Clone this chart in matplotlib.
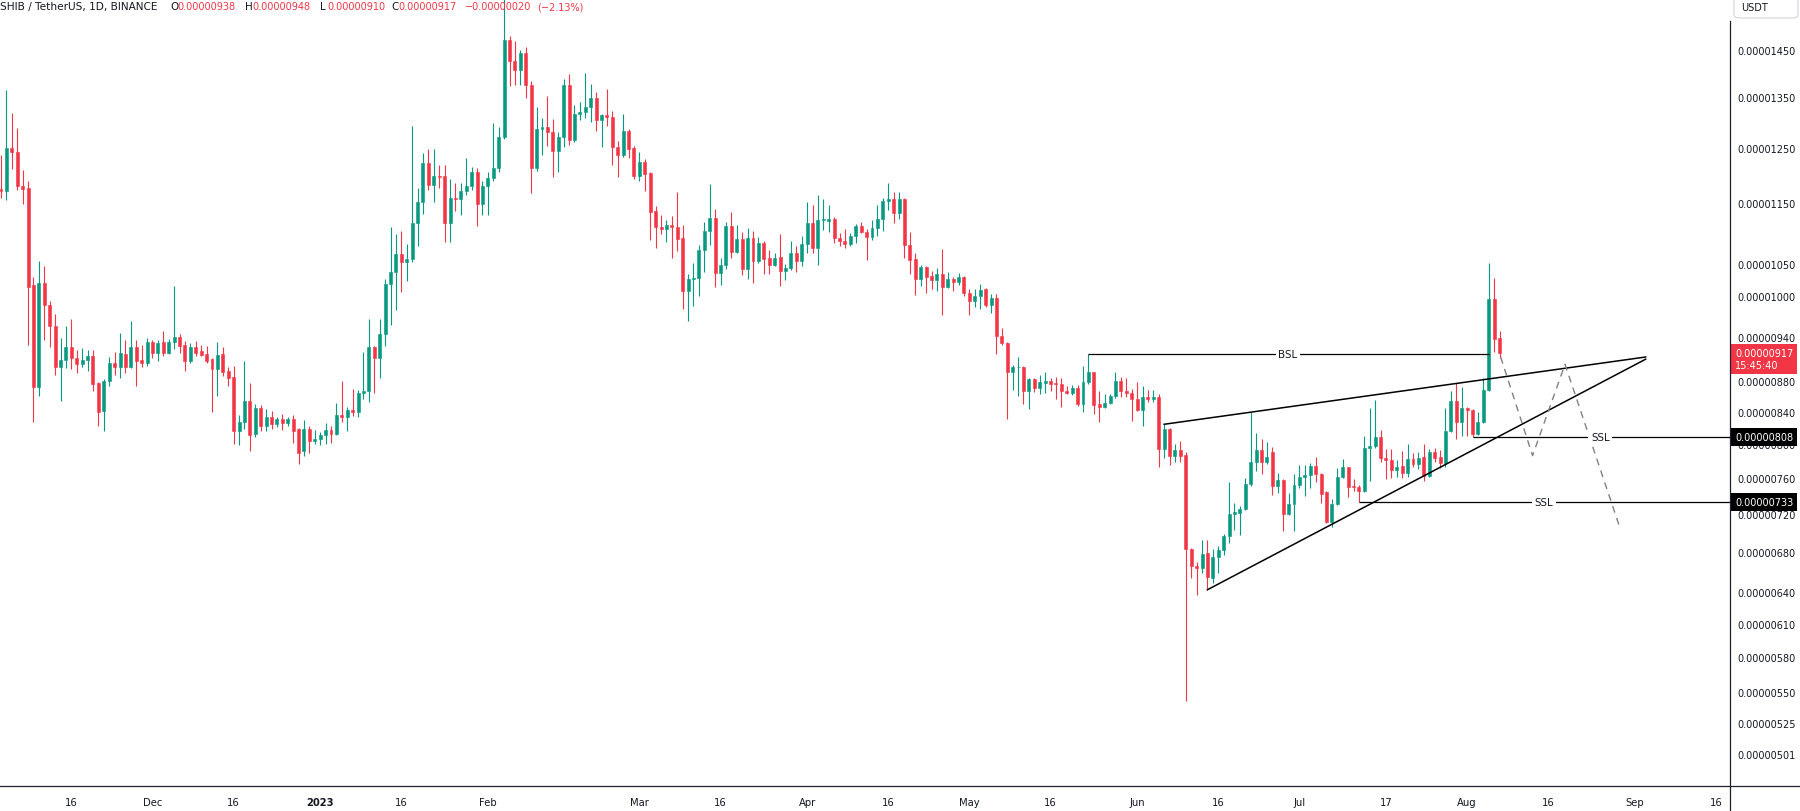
import matplotlib
matplotlib.use("Agg")
import matplotlib.pyplot as plt
import matplotlib.dates as mdates
from matplotlib.patches import FancyBboxPatch
from matplotlib.lines import Line2D
from matplotlib.ticker import FixedLocator, NullLocator, FuncFormatter
import numpy as np
import pandas as pd

UP = "#089981"
DOWN = "#F23645"
INK = "#131722"

# SHIB/USDT daily candles, prices in units of 1e-8 USDT
start_date = "2022-11-03"
opens = [
    1175, 1172, 1250, 1243, 1181, 1177, 1017, 872, 1020, 987,
    955, 899, 908, 926, 911, 903, 908, 914, 877, 841,
    880, 904, 899, 916, 899, 926, 908, 904, 933, 918,
    933, 917, 933, 940, 928, 907, 926, 920, 916, 909,
    895, 916, 893, 885, 816, 827, 854, 812, 844, 822,
    833, 824, 831, 825, 831, 818, 791, 818, 803, 806,
    811, 817, 812, 835, 833, 842, 840, 864, 866, 926,
    911, 944, 1018, 1037, 1066, 1052, 1057, 1116, 1152, 1222,
    1182, 1198, 1198, 1116, 1160, 1158, 1171, 1180, 1205, 1149,
    1180, 1195, 1213, 1271, 1471, 1425, 1406, 1442, 1374, 1212,
    1286, 1291, 1281, 1245, 1271, 1375, 1266, 1316, 1320, 1330,
    1348, 1303, 1313, 1310, 1252, 1237, 1282, 1250, 1198, 1224,
    1203, 1137, 1110, 1106, 1113, 1110, 1092, 1008, 1026, 1028,
    1072, 1103, 1125, 1035, 1048, 1111, 1069, 1090, 1042, 1091,
    1054, 1083, 1059, 1048, 1060, 1039, 1043, 1067, 1054, 1082,
    1116, 1075, 1121, 1120, 1123, 1092, 1087, 1081, 1095, 1111,
    1101, 1093, 1108, 1123, 1154, 1157, 1133, 1157, 1080, 1057,
    1026, 1044, 1030, 1024, 1033, 1013, 1026, 1021, 1029, 1005,
    992, 1000, 1010, 986, 997, 942, 931, 891, 898, 899,
    866, 882, 870, 877, 879, 877, 875, 867, 864, 870,
    850, 878, 891, 849, 846, 851, 860, 880, 866, 864,
    856, 842, 858, 856, 858, 794, 818, 786, 793, 787,
    683, 665, 663, 679, 653, 674, 682, 696, 720, 721,
    725, 753, 778, 793, 779, 790, 751, 758, 720, 731,
    752, 761, 763, 774, 765, 744, 711, 731, 761, 772,
    751, 750, 745, 795, 797, 808, 783, 781, 769, 774,
    766, 782, 776, 784, 762, 790, 784, 777, 816, 854,
    827, 845, 842, 812, 827, 868, 996, 938,
]
highs = [
    1237, 1364, 1318, 1288, 1209, 1189, 1029, 1054, 1046, 992,
    973, 939, 956, 966, 921, 925, 922, 922, 878, 882,
    912, 919, 946, 936, 963, 936, 928, 939, 936, 935,
    948, 937, 1015, 944, 934, 931, 934, 928, 927, 910,
    933, 926, 899, 900, 836, 907, 877, 850, 848, 843,
    841, 833, 837, 833, 835, 819, 829, 822, 817, 814,
    825, 822, 851, 880, 846, 869, 868, 919, 966, 927,
    966, 1026, 1110, 1098, 1103, 1081, 1293, 1177, 1241, 1248,
    1248, 1218, 1218, 1193, 1186, 1186, 1231, 1214, 1212, 1189,
    1205, 1298, 1290, 1590, 1480, 1470, 1449, 1455, 1382, 1329,
    1308, 1352, 1306, 1281, 1387, 1398, 1333, 1339, 1400, 1377,
    1360, 1315, 1366, 1322, 1263, 1316, 1286, 1254, 1243, 1230,
    1205, 1145, 1130, 1121, 1128, 1169, 1113, 1034, 1051, 1080,
    1118, 1184, 1140, 1059, 1118, 1135, 1113, 1101, 1108, 1103,
    1093, 1086, 1071, 1067, 1098, 1049, 1086, 1079, 1095, 1152,
    1147, 1164, 1158, 1147, 1126, 1100, 1106, 1100, 1114, 1118,
    1106, 1121, 1147, 1160, 1186, 1170, 1170, 1160, 1101, 1067,
    1048, 1046, 1039, 1043, 1073, 1036, 1029, 1035, 1030, 1010,
    1010, 1018, 1012, 1003, 1003, 953, 933, 901, 912, 900,
    884, 884, 887, 891, 883, 885, 883, 873, 874, 874,
    900, 916, 892, 866, 862, 863, 891, 885, 883, 869,
    878, 873, 868, 868, 863, 824, 819, 800, 804, 790,
    684, 669, 692, 692, 683, 686, 698, 755, 732, 728,
    760, 840, 813, 806, 802, 796, 766, 759, 743, 764,
    775, 775, 777, 784, 766, 745, 736, 771, 782, 773,
    759, 752, 810, 845, 855, 817, 794, 794, 781, 792,
    800, 789, 790, 800, 794, 795, 793, 845, 867, 877,
    872, 846, 843, 839, 883, 1051, 1028, 948,
]
lows = [
    1160, 1156, 1211, 1174, 1149, 929, 827, 860, 936, 926,
    887, 854, 897, 895, 890, 898, 893, 867, 822, 816,
    873, 888, 884, 890, 897, 873, 899, 900, 910, 906,
    914, 916, 923, 918, 893, 904, 914, 914, 904, 839,
    860, 886, 873, 800, 799, 818, 792, 808, 816, 816,
    818, 821, 817, 822, 801, 776, 786, 789, 800, 799,
    800, 801, 811, 827, 816, 834, 833, 856, 852, 864,
    883, 927, 957, 979, 1006, 1023, 1053, 1079, 1132, 1174,
    1152, 1177, 1085, 1085, 1136, 1130, 1164, 1174, 1112, 1130,
    1130, 1190, 1205, 1268, 1372, 1375, 1375, 1347, 1168, 1208,
    1237, 1254, 1197, 1205, 1252, 1255, 1261, 1303, 1308, 1300,
    1282, 1252, 1293, 1219, 1197, 1233, 1232, 1193, 1190, 1172,
    1088, 1075, 1098, 1085, 1059, 1070, 981, 963, 985, 1000,
    1037, 1080, 1013, 1016, 1041, 1059, 1067, 1032, 1026, 1020,
    1051, 1034, 1034, 1046, 1015, 1024, 1040, 1037, 1046, 1067,
    1067, 1048, 1105, 1101, 1083, 1079, 1075, 1078, 1083, 1099,
    1056, 1088, 1095, 1103, 1139, 1116, 1123, 1059, 1034, 1002,
    1015, 1005, 1010, 1007, 971, 1012, 1008, 1016, 1000, 972,
    983, 980, 984, 975, 916, 928, 831, 868, 860, 850,
    843, 865, 863, 864, 866, 856, 846, 862, 861, 847,
    840, 876, 837, 827, 844, 849, 857, 859, 859, 828,
    841, 822, 852, 852, 772, 783, 775, 779, 779, 543,
    653, 637, 658, 642, 649, 658, 677, 689, 703, 697,
    724, 751, 768, 764, 776, 741, 743, 701, 719, 701,
    748, 740, 748, 755, 732, 710, 706, 730, 760, 738,
    745, 733, 744, 756, 795, 779, 759, 760, 761, 760,
    761, 773, 770, 757, 761, 778, 771, 772, 815, 806,
    810, 810, 808, 811, 826, 866, 919, 910,
]
closes = [
    1172, 1250, 1243, 1181, 1175, 1014, 872, 1020, 987, 955,
    899, 908, 926, 911, 903, 908, 914, 876, 840, 880,
    904, 899, 918, 899, 926, 906, 904, 933, 918, 932,
    917, 933, 940, 927, 907, 926, 918, 915, 907, 895,
    915, 892, 884, 816, 827, 854, 811, 844, 822, 833,
    824, 831, 825, 831, 816, 789, 818, 803, 806, 811,
    817, 812, 835, 833, 842, 840, 864, 866, 926, 911,
    944, 1018, 1037, 1066, 1052, 1057, 1116, 1152, 1222, 1182,
    1198, 1196, 1116, 1160, 1158, 1171, 1180, 1205, 1149, 1180,
    1195, 1213, 1271, 1471, 1425, 1406, 1442, 1374, 1212, 1286,
    1291, 1281, 1245, 1271, 1375, 1266, 1316, 1320, 1330, 1348,
    1303, 1313, 1310, 1252, 1237, 1282, 1248, 1198, 1224, 1202,
    1135, 1110, 1106, 1113, 1110, 1090, 1008, 1026, 1028, 1072,
    1103, 1125, 1035, 1048, 1111, 1069, 1090, 1042, 1091, 1054,
    1083, 1057, 1048, 1059, 1039, 1043, 1067, 1054, 1082, 1116,
    1075, 1121, 1123, 1123, 1091, 1087, 1081, 1095, 1111, 1101,
    1093, 1108, 1123, 1154, 1157, 1133, 1157, 1080, 1056, 1026,
    1044, 1029, 1024, 1033, 1013, 1026, 1021, 1029, 1005, 992,
    1000, 1009, 986, 997, 942, 931, 891, 899, 899, 866,
    882, 870, 878, 879, 876, 875, 867, 864, 870, 850,
    878, 891, 848, 846, 851, 860, 880, 866, 864, 856,
    842, 858, 856, 858, 794, 818, 786, 793, 786, 683,
    665, 663, 678, 654, 674, 682, 696, 720, 722, 725,
    753, 778, 793, 779, 784, 751, 758, 720, 731, 752,
    761, 763, 774, 764, 742, 711, 731, 761, 772, 750,
    750, 745, 795, 797, 808, 783, 781, 769, 773, 766,
    782, 776, 783, 762, 790, 783, 777, 816, 854, 827,
    845, 842, 812, 827, 868, 996, 937, 917,
]

price_ticks = [1450, 1350, 1250, 1150, 1050, 1000, 940, 880, 840, 800,
               760, 720, 680, 640, 610, 580, 550, 525, 501]

date_ticks = ["2022-11-16", "2022-12-01", "2022-12-16", "2023-01-01", "2023-01-16",
              "2023-02-01", "2023-03-01", "2023-03-16", "2023-04-01", "2023-04-16",
              "2023-05-01", "2023-05-16", "2023-06-01", "2023-06-16", "2023-07-01",
              "2023-07-17", "2023-08-01", "2023-08-16", "2023-09-01", "2023-09-16"]
date_labels = ["16", "Dec", "16", "2023", "16", "Feb", "Mar", "16", "Apr", "16",
               "May", "16", "Jun", "16", "Jul", "17", "Aug", "16", "Sep", "16"]

# drawings (x as candle index from start_date, y in 1e-8 USDT)
bsl_level = 916
bsl_span = [201, 275]
bsl_label_at = 237.9
ssl_levels = [808, 733]
ssl_start = [272, 251]
ssl_label_at = [295.6, 285.2]
wedge_upper_idx = [215, 304]
wedge_upper_px = [824, 912]
wedge_lower_idx = [223, 304]
wedge_lower_px = [642, 909]
path_idx = [277.2, 283.1, 289.1, 299.3]
path_px = [912, 786, 902, 704]

W, H = 1800, 812
fig = plt.figure(figsize=(W / 100, H / 100), dpi=100)
fig.patch.set_facecolor("white")
ax = fig.add_axes([0, 25 / H, 1730 / W, 787 / H])
for s in ax.spines.values():
    s.set_visible(False)

x0 = mdates.date2num(pd.Timestamp(start_date))
xs = x0 + np.arange(len(opens))
o = np.array(opens, float)
c = np.array(closes, float)
colors = [UP if cc >= oo else DOWN for oo, cc in zip(o, c)]

ax.set_yscale("log")
ax.vlines(xs, lows, highs, colors=colors, linewidth=0.8, zorder=3)
ax.bar(xs, np.abs(c - o), bottom=np.minimum(o, c), width=0.55, color=colors,
       edgecolor=colors, linewidth=0.4, zorder=3)

ax.set_xlim(x0 - 0.185, x0 - 0.185 + 1730 / 5.41)
ax.set_ylim(477.5, 1565)

# trend lines
ax.plot(x0 + np.array(wedge_upper_idx), wedge_upper_px, color="black", lw=1.1, zorder=4)
ax.plot(x0 + np.array(wedge_lower_idx), wedge_lower_px, color="black", lw=1.1, zorder=4)
ax.plot(x0 + np.array(path_idx), path_px, color="#808080", lw=1.0, ls=(0, (5, 4)), zorder=4)

ax.hlines(bsl_level, x0 + bsl_span[0], x0 + bsl_span[1], color="black", lw=0.9, zorder=4)
ax.text(x0 + bsl_label_at, bsl_level, "BSL", fontsize=7.4, color=INK, ha="center",
        va="center", zorder=5, bbox=dict(boxstyle="square,pad=0.25", fc="white", ec="none"))
right_edge = ax.get_xlim()[1]
for lvl, st, lab in zip(ssl_levels, ssl_start, ssl_label_at):
    ax.hlines(lvl, x0 + st, right_edge, color="black", lw=0.9, zorder=4)
    ax.text(x0 + lab, lvl, "SSL", fontsize=7.4, color=INK, ha="center", va="center",
            zorder=5, bbox=dict(boxstyle="square,pad=0.25", fc="white", ec="none"))

# axes ticks
ax.xaxis.set_major_locator(FixedLocator(mdates.date2num(pd.to_datetime(date_ticks))))
ax.set_xticklabels(date_labels)
ax.tick_params(axis="x", length=0, pad=8, labelsize=7.2, labelcolor=INK)
for t in ax.get_xticklabels():
    if t.get_text() == "2023":
        t.set_fontweight("bold")

ax.yaxis.tick_right()
ax.yaxis.set_major_locator(FixedLocator(price_ticks))
ax.yaxis.set_minor_locator(NullLocator())
ax.yaxis.set_major_formatter(FuncFormatter(lambda v, p: f"{v * 1e-8:.8f}"))
ax.tick_params(axis="y", length=0, pad=5, labelsize=7.0, labelcolor=INK)

# price labels on the scale
for lvl in ssl_levels:
    ax.annotate(f"{lvl * 1e-8:.8f}", xy=(1, lvl), xycoords=("axes fraction", "data"),
                xytext=(5, 0), textcoords="offset pixels", ha="left", va="center",
                fontsize=7.0, color="white", zorder=6, annotation_clip=False,
                bbox=dict(boxstyle="square,pad=0.4", fc="black", ec="none"))
ax.annotate(f"{closes[-1] * 1e-8:.8f}\n15:45:40", xy=(1, closes[-1]),
            xycoords=("axes fraction", "data"), xytext=(5, 5), textcoords="offset pixels",
            ha="left", va="top", fontsize=7.0, color="white", zorder=6,
            annotation_clip=False, linespacing=1.25,
            bbox=dict(boxstyle="square,pad=0.4", fc=DOWN, ec="none"))

# frame lines
fig.add_artist(Line2D([0, 1], [25 / H, 25 / H], color="#1e222d", lw=0.9))
fig.add_artist(Line2D([1730 / W, 1730 / W], [0, 1 - 22 / H], color="#1e222d", lw=0.9))
fig.add_artist(FancyBboxPatch((1734 / W, 1 - 19 / H), 64 / W, 24 / H,
                              boxstyle="round,pad=0,rounding_size=0.004",
                              transform=fig.transFigure, fc="white", ec="#d1d4dc", lw=0.8))
fig.text(1741 / W, 1 - 8 / H, "USDT", fontsize=7.0, color=INK, va="center", ha="left")

# header legend
chg = closes[-1] - closes[-2]
pct = chg / closes[-2] * 100
hy = 1 - 7 / H
fig.text(0 / W, hy, "SHIB / TetherUS, 1D, BINANCE", fontsize=7.6, color=INK, va="center")
parts = [("O", opens[-1], 170), ("H", highs[-1], 245), ("L", lows[-1], 320), ("C", closes[-1], 391)]
for lab, val, px in parts:
    fig.text(px / W, hy, lab, fontsize=7.4, color=INK, va="center")
    fig.text((px + 7) / W, hy, f"{val * 1e-8:.8f}", fontsize=7.0, color=DOWN, va="center")
fig.text(465 / W, hy, f"\u2212{abs(chg) * 1e-8:.8f}", fontsize=7.0, color=DOWN, va="center")
fig.text(537 / W, hy, f"(\u2212{abs(pct):.2f}%)", fontsize=7.0, color=DOWN, va="center")

fig.savefig("out.png", dpi=100, facecolor="white")
